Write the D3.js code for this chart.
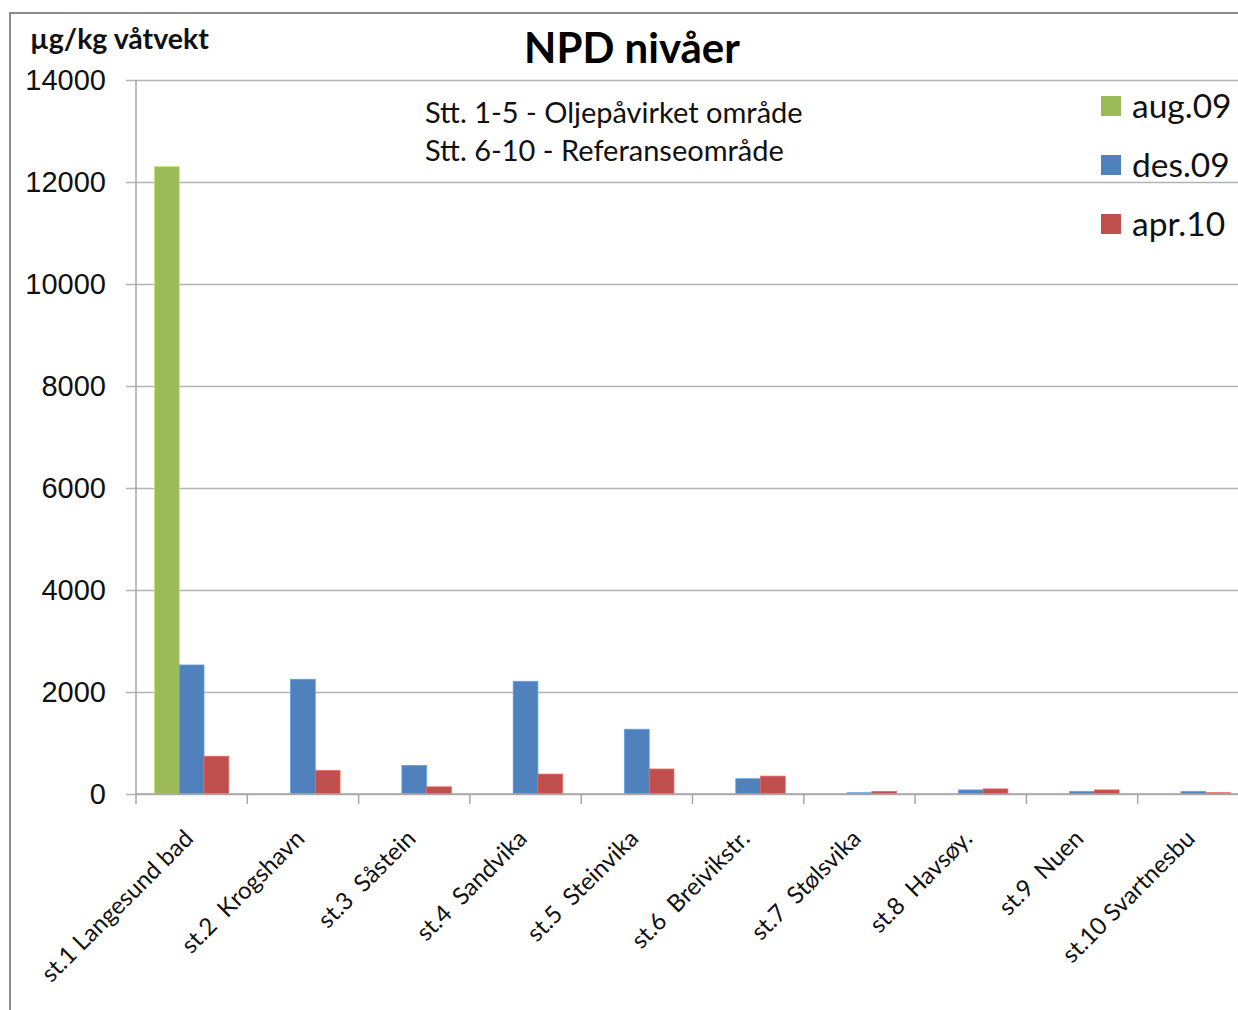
<!DOCTYPE html>
<html>
<head>
<meta charset="utf-8">
<script src="https://cdn.jsdelivr.net/npm/d3@7"></script>
<style>
  html, body { margin: 0; padding: 0; background: #fff; }
  svg { display: block; font-family: Lato, "Open Sans", sans-serif; }
</style>
</head>
<body>
<svg id="chart" width="1238" height="1010"></svg>
<script>
// Stations along the x axis
const stations = [
  "st.1 Langesund bad", "st.2  Krogshavn", "st.3  Såstein", "st.4  Sandvika",
  "st.5  Steinvika", "st.6  Breivikstr.", "st.7  Stølsvika", "st.8  Havsøy.",
  "st.9  Nuen", "st.10 Svartnesbu"
];
// Sampling rounds (series)
const seriesNames = ["aug.09", "des.09", "apr.10"];
const seriesColors = ["#9BBB59", "#4F81BD", "#C0504D"];
// NPD levels, µg/kg wet weight, per station
const aug09 = [12300, null, null, null, null, null, null, null, null, null];
const des09 = [2530, 2250, 560, 2210, 1270, 300, 25, 80, 50, 50];
const apr10 = [740, 460, 140, 390, 490, 350, 50, 100, 80, 25];
const yTicks = [0, 2000, 4000, 6000, 8000, 10000, 12000, 14000];

const seriesValues = [aug09, des09, apr10];

const svg = d3.select("#chart");
const plot = { left: 136, right: 1249, top: 80, bottom: 794 };

const x = d3.scaleBand().domain(stations).range([plot.left, plot.right]).paddingInner(0).paddingOuter(0);
const xs = d3.scaleBand().domain(seriesNames).range([0, x.bandwidth()]).paddingInner(0).paddingOuter(0.75);
const y = d3.scaleLinear().domain([0, 14000]).range([plot.bottom, plot.top]);

// Outer chart frame
svg.append("path")
  .attr("d", "M10,1012 L10,13 L1240,13")
  .attr("fill", "none").attr("stroke", "#8c8c8c").attr("stroke-width", 2);

// Horizontal gridlines with left tick marks
const yAxis = d3.axisLeft(y).tickValues(yTicks).tickSize(-(1238 - plot.left)).tickSizeOuter(0).tickPadding(30).tickFormat(d3.format("d"));
const gy = svg.append("g").attr("transform", `translate(${plot.left},0)`).call(yAxis);
gy.select(".domain").remove();
gy.selectAll(".tick line").attr("stroke", "#b3b3b3").attr("stroke-width", 1.3).attr("x1", -10);
gy.selectAll(".tick text").attr("font-size", 29).attr("fill", "#111").attr("x", -30).attr("dy", "0.34em");

// Bars
const groups = svg.append("g").selectAll("g")
  .data(stations).join("g")
  .attr("transform", d => `translate(${x(d)},0)`);

groups.selectAll("rect")
  .data((d, i) => seriesNames.map((s, k) => ({ s, k, v: seriesValues[k][i] })).filter(e => e.v != null))
  .join("rect")
  .attr("x", e => xs(e.s))
  .attr("width", xs.bandwidth())
  .attr("y", e => y(e.v))
  .attr("height", e => y(0) - y(e.v))
  .attr("fill", e => seriesColors[e.k])
  .attr("stroke", e => d3.color(seriesColors[e.k]).brighter(0.6))
  .attr("stroke-width", 0.8);

// Y axis line
svg.append("line")
  .attr("x1", plot.left).attr("x2", plot.left)
  .attr("y1", plot.top).attr("y2", plot.bottom)
  .attr("stroke", "#a6a6a6").attr("stroke-width", 1.5);

// X axis line and category separators
const xAxis = d3.axisBottom(x).tickSize(0).tickFormat("");
const gx = svg.append("g").attr("transform", `translate(0,${plot.bottom})`).call(xAxis);
gx.select(".domain").attr("stroke", "#a6a6a6").attr("stroke-width", 1.5)
  .attr("d", `M${plot.left},0H1238`);
gx.selectAll(".tick").remove();
gx.selectAll(".sep")
  .data(stations).join("line")
  .attr("class", "sep")
  .attr("x1", d => x(d)).attr("x2", d => x(d))
  .attr("y1", 0).attr("y2", 10)
  .attr("stroke", "#a6a6a6").attr("stroke-width", 1.5);

// Rotated category labels
svg.append("g").selectAll("text")
  .data(stations).join("text")
  .attr("transform", d => `translate(${x(d) + x.bandwidth() / 2 + 3},${plot.bottom + 46}) rotate(-45)`)
  .attr("text-anchor", "end")
  .attr("font-size", 24)
  .attr("fill", "#111")
  .style("white-space", "pre")
  .text(d => d);

// Title
svg.append("text")
  .attr("x", 632).attr("y", 63)
  .attr("text-anchor", "middle")
  .attr("font-size", 42).attr("font-weight", "bold").attr("fill", "#000")
  .text("NPD nivåer");

// Unit label
svg.append("text")
  .attr("x", 30).attr("y", 49)
  .attr("font-size", 28.5).attr("font-weight", "bold").attr("fill", "#111")
  .text("µg/kg våtvekt");

// Notes on station groups
const notes = ["Stt. 1-5 - Oljepåvirket område", "Stt. 6-10 - Referanseområde"];
svg.append("g").selectAll("text")
  .data(notes).join("text")
  .attr("x", 425).attr("y", (d, i) => 123 + i * 38)
  .attr("font-size", 29).attr("fill", "#111")
  .text(d => d);

// Legend
const legend = svg.append("g").selectAll("g")
  .data(seriesNames).join("g")
  .attr("transform", (d, i) => `translate(1101,${96 + i * 59})`);
legend.append("rect")
  .attr("width", 20).attr("height", 20)
  .attr("fill", (d, i) => seriesColors[i]);
legend.append("text")
  .attr("x", 31).attr("y", 10).attr("dy", "0.36em")
  .attr("font-size", 33.5).attr("fill", "#111")
  .text(d => d);
</script>
</body>
</html>
